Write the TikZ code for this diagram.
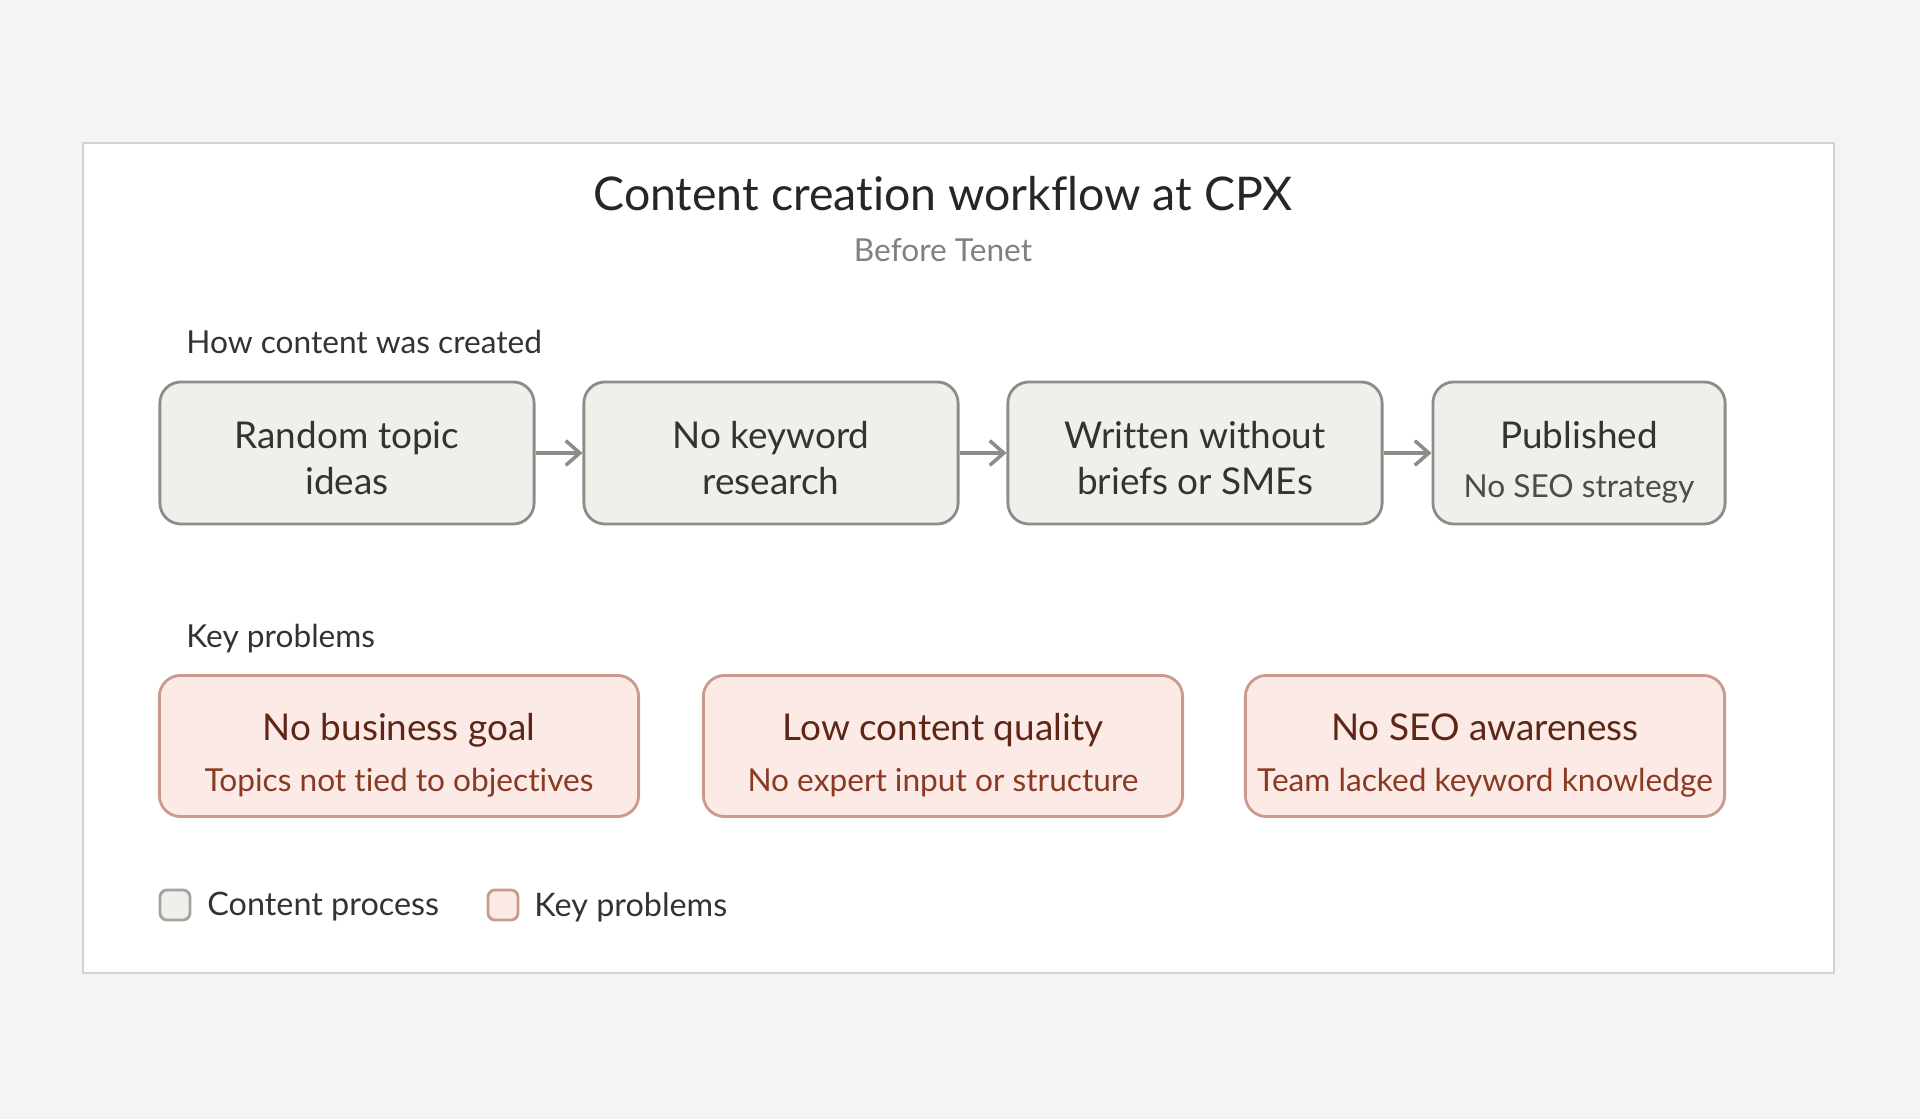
\documentclass[tikz,border=0pt]{standalone}
\usepackage{fontspec}
\setmainfont{Lato}[Ligatures=NoCommon]
\usetikzlibrary{arrows.meta}

\definecolor{pagegray}{HTML}{F4F4F4}
\definecolor{framegray}{HTML}{D2D2D2}
\definecolor{procfill}{HTML}{F0EFEA}
\definecolor{procline}{HTML}{8C8C8A}
\definecolor{probfill}{HTML}{FBEAE5}
\definecolor{probline}{HTML}{C99A8E}
\definecolor{probtext}{HTML}{5E2616}
\definecolor{probsub}{HTML}{8A3A22}
\definecolor{inktext}{HTML}{333333}

\begin{document}
\begin{tikzpicture}[x=0.01cm, y=-0.01cm,
    procbox/.style={draw=procline, fill=procfill, line width=0.8pt, rounded corners=6pt,
      minimum height=1.42cm, align=center, font=\fontsize{10.5}{13}\selectfont, text=inktext},
    probbox/.style={draw=probline, fill=probfill, line width=0.8pt, rounded corners=6pt,
      minimum width=4.79cm, minimum height=1.41cm, align=center, text=probtext},
    flow/.style={-{Straight Barb[length=4pt, width=7pt]}, draw=procline, line width=1pt},
    heading/.style={anchor=west, font=\fontsize{9}{11}\selectfont, text=inktext},
    swatch/.style={rounded corners=2pt, line width=0.8pt, minimum size=0.3cm, inner sep=0pt}]

  % Page and card
  \fill[pagegray] (0,0) rectangle (1920,1119);
  \draw[framegray, fill=white, line width=0.8pt] (83,143) rectangle (1834,973);

  % Title
  \node[font=\fontsize{13.2}{16}\selectfont, text=black!85] (title) at (943,194) {Content creation workflow at CPX};
  \node[font=\fontsize{9}{11}\selectfont, text=black!50] (subtitle) at (943,250) {Before Tenet};

  % Process row
  \node[heading] (howlabel) at (174,342) {How content was created};
  \node[procbox, minimum width=3.74cm] (topics) at (347,453) {\rule{0pt}{10.5pt}Random topic\\ideas};
  \node[procbox, minimum width=3.74cm] (research) at (771,453) {\rule{0pt}{10.5pt}No keyword\\research};
  \node[procbox, minimum width=3.74cm] (writing) at (1195,453) {\rule{0pt}{10.5pt}Written without\\briefs or SMEs};
  \node[procbox, minimum width=2.92cm] (publish) at (1579,453)
    {\rule{0pt}{13pt}Published\\[1pt]{\fontsize{9}{11}\selectfont\color{black!70}No SEO strategy}};

  \draw[flow] (topics) -- (research);
  \draw[flow] (research) -- (writing);
  \draw[flow] (writing) -- (publish);

  % Problems row
  \node[heading] (problabel) at (174,639) {Key problems};
  \node[probbox] (goal) at (399,746)
    {\rule{0pt}{13pt}{\fontsize{10.5}{13}\selectfont No business goal}\\[2.7pt]{\fontsize{9}{11}\selectfont\color{probsub}Topics not tied to objectives}};
  \node[probbox] (quality) at (943,746)
    {\rule{0pt}{13pt}{\fontsize{10.5}{13}\selectfont Low content quality}\\[2.7pt]{\fontsize{9}{11}\selectfont\color{probsub}No expert input or structure}};
  \node[probbox] (seo) at (1485,746)
    {\rule{0pt}{13pt}{\fontsize{10.5}{13}\selectfont No SEO awareness}\\[2.7pt]{\fontsize{9}{11}\selectfont\color{probsub}Team lacked keyword knowledge}};

  % Legend
  \node[swatch, draw=procline!80, fill=procfill] (procswatch) at (175,905) {};
  \node[heading, font=\fontsize{9.2}{11}\selectfont] (proclegend) at (195,907) {Content process};
  \node[swatch, draw=probline, fill=probfill] (probswatch) at (503,905) {};
  \node[heading, font=\fontsize{9.2}{11}\selectfont] (problegend) at (522,907) {Key problems};
\end{tikzpicture}
\end{document}
